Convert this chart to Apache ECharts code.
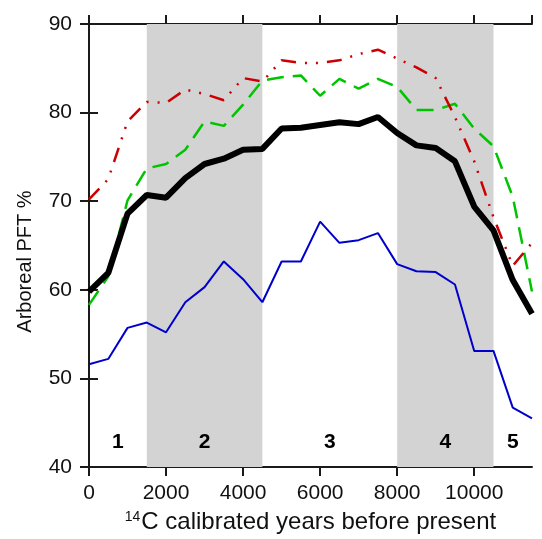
<!DOCTYPE html>
<html>
<head>
<meta charset="utf-8">
<script src="https://cdn.jsdelivr.net/npm/echarts@6/dist/echarts.min.js"></script>
<style>
  html, body { margin: 0; padding: 0; background: #fff; }
  #main { width: 542px; height: 539px; }
</style>
</head>
<body>
<div id="main"></div>
<script>
// years before present, 500-yr steps
const years = [0, 500, 1000, 1500, 2000, 2500, 3000, 3500, 4000, 4500, 5000, 5500,
  6000, 6500, 7000, 7500, 8000, 8500, 9000, 9500, 10000, 10500, 11000, 11500]

const meanPft = [59.8, 61.9, 68.6, 70.7, 70.4, 72.6, 74.2, 74.8, 75.8, 75.9, 78.2, 78.3,
  78.6, 78.9, 78.7, 79.5, 77.7, 76.3, 76.0, 74.5, 69.4, 66.7, 61.1, 57.3]
const bluePft = [51.6, 52.2, 55.7, 56.3, 55.2, 58.6, 60.3, 63.2, 61.2, 58.6, 63.2, 63.2,
  67.7, 65.3, 65.6, 66.4, 62.9, 62.1, 62.0, 60.6, 53.1, 53.1, 46.7, 45.5]
const greenPft = [58.3, 61.5, 70.1, 73.7, 74.2, 75.8, 79.0, 78.5, 80.9, 83.6, 84.0, 84.2,
  81.9, 83.8, 82.7, 83.8, 82.9, 80.3, 80.3, 81.0, 78.2, 76.2, 70.5, 59.8]
const redPft = [70.2, 72.5, 79.0, 81.2, 81.1, 82.6, 82.1, 81.4, 83.9, 83.5, 85.9, 85.6,
  85.6, 85.9, 86.6, 87.1, 86.1, 85.1, 83.9, 79.5, 74.5, 68.2, 62.7, 65.3]

// shaded pollen zones
const shadedZones = [[1500, 4500], [8000, 10500]]
const zoneNames = ['1', '2', '3', '4', '5']
const zoneCenters = [750, 3000, 6250, 9250, 11000]
const zoneLabelY = 42.8

const FONT = 'Liberation Sans'

function pairs(vals) {
  return years.map((y, i) => [y, vals[i]])
}

const chart = echarts.init(document.getElementById('main'))

const axisCommon = {
  axisLine: { show: true, lineStyle: { color: '#1a1a1a', width: 2 } },
  axisTick: { show: true, inside: false, length: 9, lineStyle: { color: '#1a1a1a', width: 2 } },
  splitLine: { show: false }
}

const option = {
  animation: false,
  grid: { left: 89, right: 10, top: 24, bottom: 72 },
  xAxis: [
    {
      type: 'value', min: 0, max: 11500, interval: 2000, position: 'bottom',
      ...axisCommon,
      axisLabel: {
        fontFamily: FONT, fontSize: 21, color: '#111', margin: 16, showMaxLabel: false,
        formatter: v => String(v)
      },
      name: '{sup|14}C calibrated years before present',
      nameLocation: 'middle',
      nameGap: 43,
      nameTextStyle: {
        fontFamily: FONT, fontSize: 24, color: '#111',
        rich: { sup: { fontFamily: FONT, fontSize: 14, color: '#111', verticalAlign: 'top', padding: [0, 1, 10, 0] } }
      }
    },
    {
      type: 'value', min: 0, max: 11500, interval: 2000, position: 'top',
      ...axisCommon,
      axisLabel: { show: false }
    }
  ],
  yAxis: [
    {
      type: 'value', min: 40, max: 90, interval: 10, position: 'left',
      ...axisCommon,
      axisLabel: { fontFamily: FONT, fontSize: 21, color: '#111', margin: 17 },
      name: 'Arboreal PFT %',
      nameLocation: 'middle',
      nameGap: 54,
      nameTextStyle: { fontFamily: FONT, fontSize: 20, color: '#111', padding: [0, 32, 0, 0] }
    },
    {
      type: 'value', min: 40, max: 90, interval: 10, position: 'right',
      ...axisCommon,
      axisLabel: { show: false }
    }
  ],
  series: [
    {
      type: 'line', data: [], z: 1, silent: true,
      markArea: {
        silent: true,
        itemStyle: { color: '#d3d3d3', opacity: 1 },
        data: shadedZones.map(z => [{ xAxis: z[0] }, { xAxis: z[1] }])
      }
    },
    {
      name: 'blue', type: 'line', data: pairs(bluePft), showSymbol: false, z: 3,
      lineStyle: { color: '#0000cc', width: 2 }
    },
    {
      name: 'green', type: 'line', data: pairs(greenPft), showSymbol: false, z: 3,
      lineStyle: { color: '#00c400', width: 2.5, type: [17, 9] }
    },
    {
      name: 'red', type: 'line', data: pairs(redPft), showSymbol: false, z: 3,
      lineStyle: { color: '#cc0000', width: 2.5, type: [15, 9, 2, 9, 2, 9] }
    },
    {
      name: 'mean', type: 'line', data: pairs(meanPft), showSymbol: false, z: 4,
      lineStyle: { color: '#000', width: 6 }
    },
    {
      type: 'scatter', symbolSize: 0, silent: true, z: 5,
      data: zoneCenters.map(x => [x, zoneLabelY]),
      itemStyle: { opacity: 1 },
      label: {
        show: true, position: 'inside',
        formatter: p => zoneNames[p.dataIndex],
        fontFamily: FONT, fontSize: 21, fontWeight: 'bold', color: '#000'
      }
    }
  ]
}

chart.setOption(option)
</script>
</body>
</html>
